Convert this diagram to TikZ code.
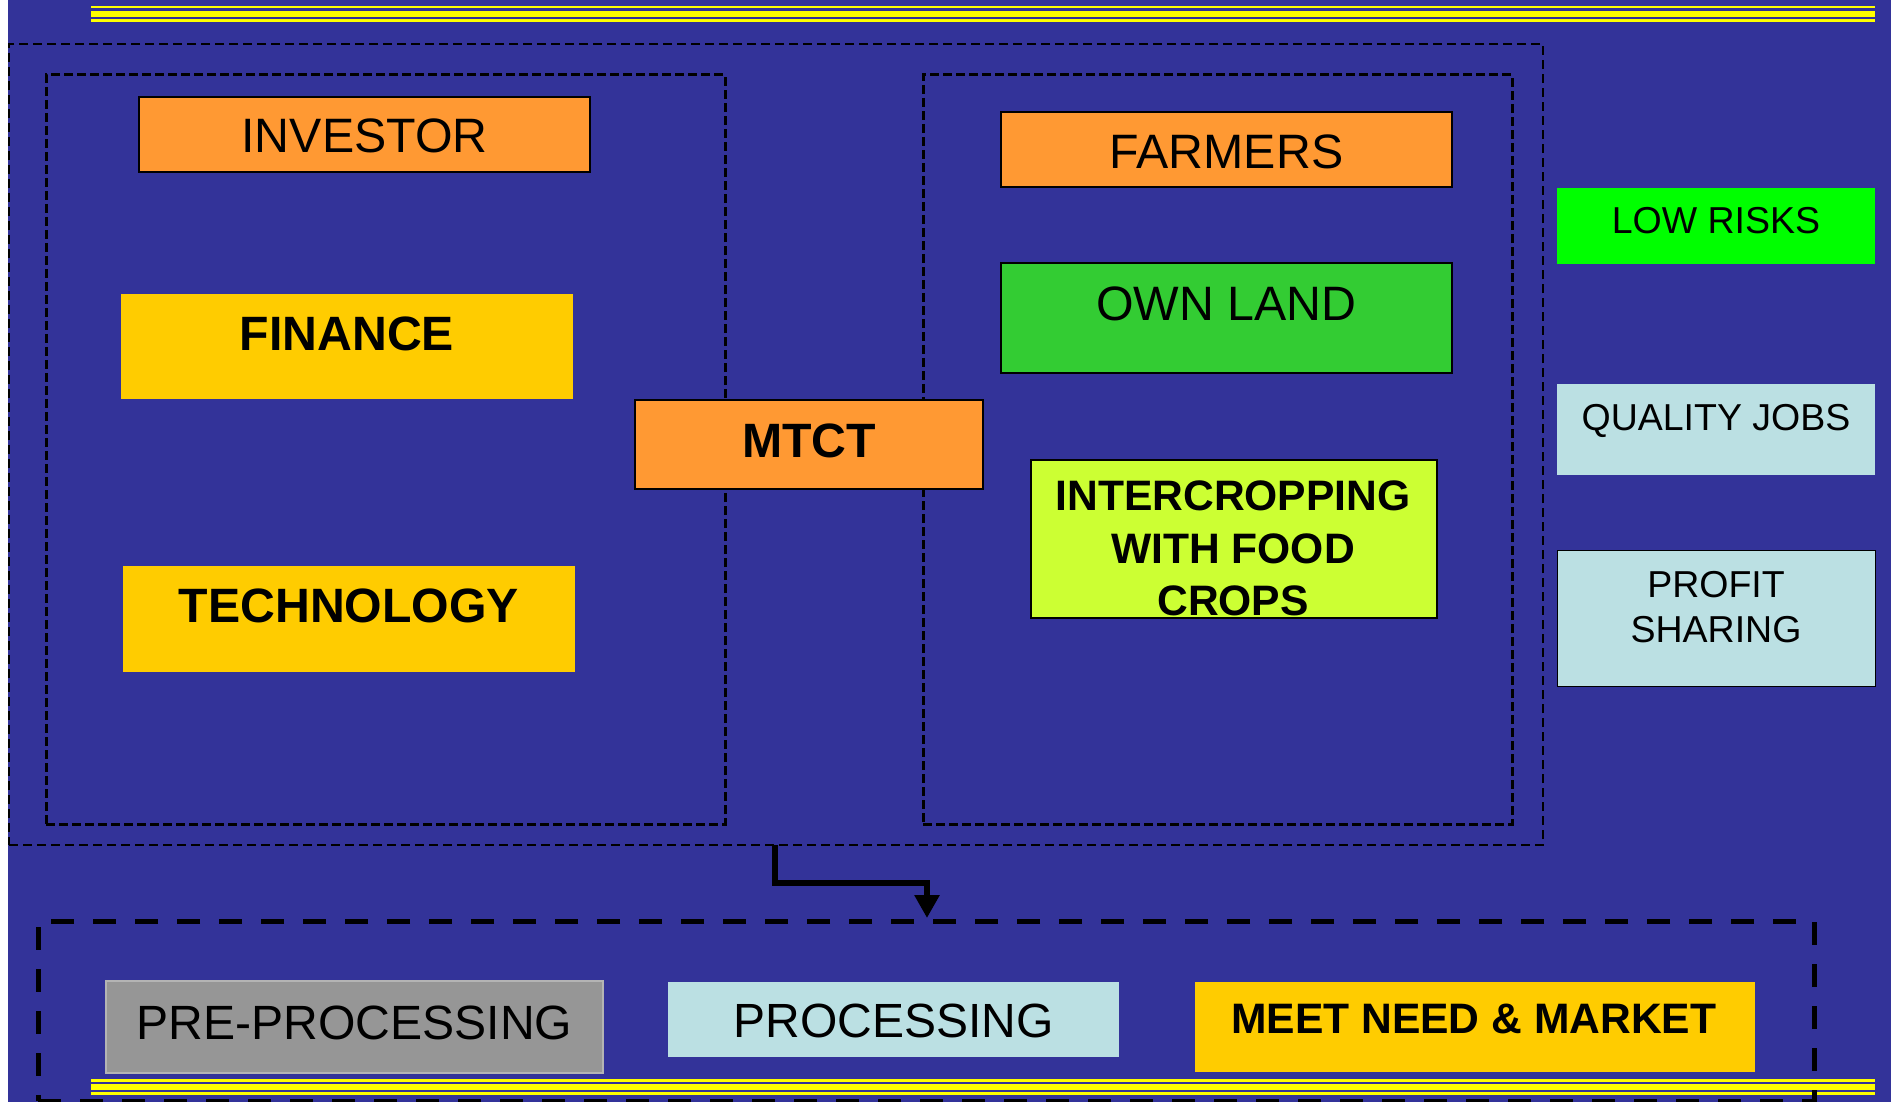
\documentclass[tikz,border=0pt]{standalone}
\usepackage{fontspec}
\setmainfont{Liberation Sans}
\usetikzlibrary{arrows.meta}
\definecolor{bgblue}{HTML}{333399}
\definecolor{orng}{HTML}{FF9933}
\definecolor{gold}{HTML}{FFCC00}
\definecolor{grn}{HTML}{33CC33}
\definecolor{lime}{HTML}{CCFF33}
\definecolor{brightgrn}{HTML}{00FF00}
\definecolor{paleblue}{HTML}{BBE0E3}
\definecolor{midgray}{HTML}{969696}
\definecolor{lightgray}{HTML}{B4B4B4}
\definecolor{stripe}{HTML}{FFFF00}
\tikzset{
  x=1pt, y=-1pt,
  box/.style={rectangle, inner sep=0pt, outer sep=0pt},
  bordered/.style={box, draw=black, line width=1.3pt},
  plain/.style={box},
  fsA/.style={font=\fontsize{48.3}{56}\selectfont, anchor=base, inner sep=0pt},
  fsAb/.style={font=\fontsize{48.2}{56}\selectfont\bfseries, anchor=base, inner sep=0pt},
  fsB/.style={font=\fontsize{42.6}{50}\selectfont\bfseries, anchor=base, inner sep=0pt},
  fsC/.style={font=\fontsize{37.5}{44}\selectfont, anchor=base, inner sep=0pt},
  outerdash/.style={box, draw=black, line width=1.8pt, dash pattern=on 9pt off 5pt},
  innerdash/.style={box, draw=black, line width=3pt, dash pattern=on 9pt off 4pt},
  bottomdash/.style={box, draw=black, line width=5pt, dash pattern=on 23pt off 19pt},
  flow/.style={draw=black, line width=6.5pt, line join=miter, -{Triangle[length=23pt,width=24pt]}},
}
\begin{document}
\begin{tikzpicture}
\useasboundingbox (0,0) rectangle (1891,1102);
\fill[white] (0,0) rectangle (8,1102);
\fill[bgblue] (8,0) rectangle (1891,1102);
% stripes
\fill[stripe] (91,5.7) rectangle (1875,8.3);
\fill[stripe] (91,11) rectangle (1875,16.7);
\fill[stripe] (91,19) rectangle (1875,21.7);
\fill[stripe] (91,1079) rectangle (1875,1082);
\fill[stripe] (91,1084.3) rectangle (1875,1090);
\fill[stripe] (91,1092.3) rectangle (1875,1095);
% dashed groups
\node[outerdash, minimum width=1534pt, minimum height=801pt] (outer) at (776,444.5) {};
\node[innerdash, minimum width=679pt, minimum height=749pt] (leftgrp) at (385.5,449.5) {};
\node[innerdash, minimum width=589pt, minimum height=749pt] (rightgrp) at (1217.5,449.5) {};
\node[bottomdash, minimum width=1776pt, minimum height=180pt] (bottomgrp) at (926,1011) {};
% left group
\node[bordered, fill=orng, minimum width=451pt, minimum height=75pt] (investor) at (364.5,134.5) {};
\node[fsA] (investorT) at (364.5,153) {INVESTOR};
\node[plain, fill=gold, minimum width=452pt, minimum height=105pt] (finance) at (347,346.5) {};
\node[fsAb] (financeT) at (347,350) {FINANCE};
\node[plain, fill=gold, minimum width=452pt, minimum height=106pt] (tech) at (349,619) {};
\node[fsAb] (techT) at (349,622) {TECHNOLOGY};
% centre
\node[bordered, fill=orng, minimum width=348pt, minimum height=89pt] (mtct) at (809,444.5) {};
\node[fsAb] (mtctT) at (809,457) {MTCT};
% right group
\node[bordered, fill=orng, minimum width=451pt, minimum height=75pt] (farmers) at (1226.5,149.5) {};
\node[fsA] (farmersT) at (1226.5,169) {FARMERS};
\node[bordered, fill=grn, minimum width=451pt, minimum height=110pt] (ownland) at (1226.5,318) {};
\node[fsA] (ownlandT) at (1226.5,320) {OWN LAND};
\node[bordered, fill=lime, minimum width=406pt, minimum height=158pt] (inter) at (1234,539) {};
\node[fsB] (interT1) at (1233,510) {INTERCROPPING};
\node[fsB] (interT2) at (1233,563) {WITH FOOD};
\node[fsB] (interT3) at (1233,615) {CROPS};
% outcomes
\node[plain, fill=brightgrn, minimum width=318pt, minimum height=75.7pt] (lowrisk) at (1716,225.9) {};
\node[fsC] (lowriskT) at (1716,233.4) {LOW RISKS};
\node[plain, fill=paleblue, minimum width=318pt, minimum height=90.7pt] (jobs) at (1716,429.3) {};
\node[fsC] (jobsT) at (1716,430.4) {QUALITY JOBS};
\node[bordered, fill=paleblue, line width=1pt, minimum width=318pt, minimum height=136.4pt] (profit) at (1716,618.5) {};
\node[fsC] (profitT1) at (1716,597.4) {PROFIT};
\node[fsC] (profitT2) at (1716,642.4) {SHARING};
% bottom row
\node[box, draw=lightgray, line width=1.5pt, fill=midgray, minimum width=497pt, minimum height=92pt] (pre) at (354.5,1027) {};
\node[fsA, font=\fontsize{48.1}{56}\selectfont] (preT) at (354.5,1039) {PRE-PROCESSING};
\node[plain, fill=paleblue, minimum width=451pt, minimum height=75pt] (proc) at (893.5,1019) {};
\node[fsA, font=\fontsize{48}{56}\selectfont] (procT) at (893.5,1037) {PROCESSING};
\node[plain, fill=gold, minimum width=560pt, minimum height=90pt] (market) at (1475,1026.5) {};
\node[fsB] (marketT) at (1473.7,1033) {MEET NEED \& MARKET};
% connector
\coordinate (arrowstart) at (775,845);
\coordinate (arrowend) at (927,918);
\draw[flow] (arrowstart) |- (927,883) -- (arrowend);
\end{tikzpicture}
\end{document}
